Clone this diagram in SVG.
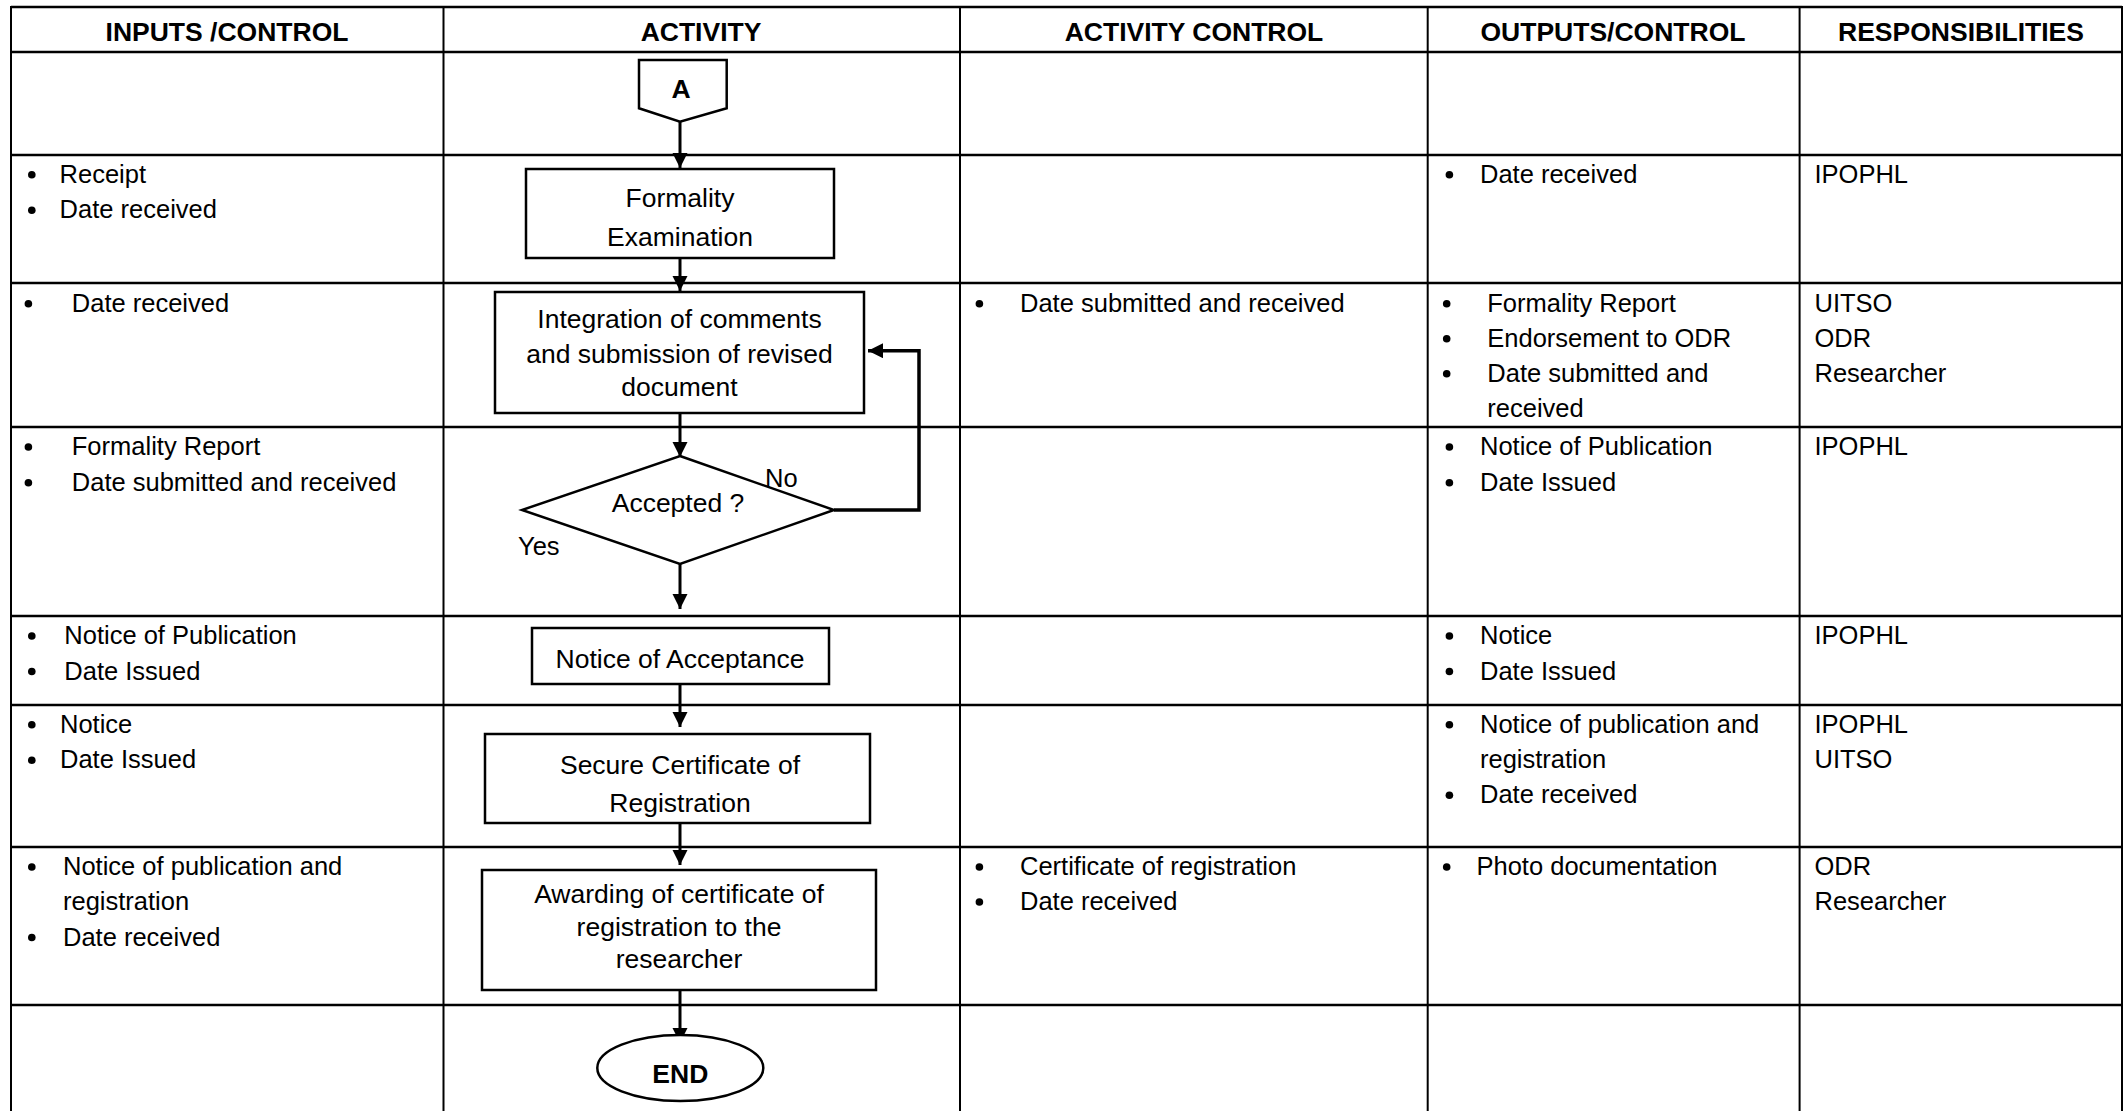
<svg xmlns="http://www.w3.org/2000/svg" width="2124" height="1111" viewBox="0 0 2124 1111">
<style>
text{font-family:"Liberation Sans",Arial,sans-serif;fill:#000}
.t{font-size:25.5px}
.h{font-size:26.5px;font-weight:bold;text-anchor:middle}
.c{font-size:26.5px;text-anchor:middle}
.b{font-size:26.5px;font-weight:bold;text-anchor:middle}
.hl{stroke:#000;stroke-width:2.5}
.vl{stroke:#000;stroke-width:2}
.shape{fill:#fff;stroke:#000;stroke-width:2.5}
.conn{fill:none;stroke:#000;stroke-width:3}
.loop{fill:none;stroke:#000;stroke-width:3.5}
</style>
<defs>
<marker id="arr" markerUnits="userSpaceOnUse" markerWidth="16" markerHeight="16" refX="15" refY="7.5" orient="auto">
<path d="M0,0 L15,7.5 L0,15 z" fill="#000"/>
</marker>
<circle id="dot" r="3.8" fill="#000"/>
</defs>
<rect width="2124" height="1111" fill="#fff"/>
<g id="table">
<line class="hl" x1="11" y1="7" x2="2122" y2="7"/>
<line class="hl" x1="11" y1="52" x2="2122" y2="52"/>
<line class="hl" x1="11" y1="155" x2="2122" y2="155"/>
<line class="hl" x1="11" y1="283" x2="2122" y2="283"/>
<line class="hl" x1="11" y1="427" x2="2122" y2="427"/>
<line class="hl" x1="11" y1="616" x2="2122" y2="616"/>
<line class="hl" x1="11" y1="705" x2="2122" y2="705"/>
<line class="hl" x1="11" y1="847" x2="2122" y2="847"/>
<line class="hl" x1="11" y1="1005" x2="2122" y2="1005"/>
<line class="vl" x1="11" y1="6" x2="11" y2="1111"/>
<line class="vl" x1="443.5" y1="6" x2="443.5" y2="1111"/>
<line class="vl" x1="960" y1="6" x2="960" y2="1111"/>
<line class="vl" x1="1427.7" y1="6" x2="1427.7" y2="1111"/>
<line class="vl" x1="1799.6" y1="6" x2="1799.6" y2="1111"/>
<line class="vl" x1="2122" y1="6" x2="2122" y2="1111"/>
<text class="h" x="227" y="40.5">INPUTS /CONTROL</text>
<text class="h" x="701" y="40.5">ACTIVITY</text>
<text class="h" x="1194" y="40.5">ACTIVITY CONTROL</text>
<text class="h" x="1613" y="40.5">OUTPUTS/CONTROL</text>
<text class="h" x="1961" y="40.5">RESPONSIBILITIES</text>
</g>
<g id="cells">
<use href="#dot" x="31.8" y="174.7"/><text class="t" x="59.6" y="182.7">Receipt</text>
<use href="#dot" x="31.8" y="210.3"/><text class="t" x="59.6" y="218.3">Date received</text>
<use href="#dot" x="1449.4" y="174.7"/><text class="t" x="1480" y="182.7">Date received</text>
<text class="t" x="1814.5" y="182.7">IPOPHL</text>

<use href="#dot" x="28.4" y="303.7"/><text class="t" x="71.8" y="311.7">Date received</text>
<use href="#dot" x="979.4" y="303.7"/><text class="t" x="1020" y="311.7">Date submitted and received</text>
<use href="#dot" x="1446.7" y="303.7"/><text class="t" x="1487.3" y="311.7">Formality Report</text>
<use href="#dot" x="1446.7" y="338.7"/><text class="t" x="1487.3" y="346.7">Endorsement to ODR</text>
<use href="#dot" x="1446.7" y="373.7"/><text class="t" x="1487.3" y="381.7">Date submitted and</text>
<text class="t" x="1487.3" y="416.7">received</text>
<text class="t" x="1814.5" y="311.7">UITSO</text>
<text class="t" x="1814.5" y="346.7">ODR</text>
<text class="t" x="1814.5" y="381.7">Researcher</text>

<use href="#dot" x="28.4" y="447"/><text class="t" x="71.8" y="455">Formality Report</text>
<use href="#dot" x="28.4" y="482.7"/><text class="t" x="71.8" y="490.7">Date submitted and received</text>
<use href="#dot" x="1449.4" y="447"/><text class="t" x="1480" y="455">Notice of Publication</text>
<use href="#dot" x="1449.4" y="482.7"/><text class="t" x="1480" y="490.7">Date Issued</text>
<text class="t" x="1814.5" y="455">IPOPHL</text>

<use href="#dot" x="31.8" y="636"/><text class="t" x="64.3" y="644">Notice of Publication</text>
<use href="#dot" x="31.8" y="671.5"/><text class="t" x="64.3" y="679.5">Date Issued</text>
<use href="#dot" x="1449.4" y="636"/><text class="t" x="1480" y="644">Notice</text>
<use href="#dot" x="1449.4" y="671.5"/><text class="t" x="1480" y="679.5">Date Issued</text>
<text class="t" x="1814.5" y="644">IPOPHL</text>

<use href="#dot" x="31.8" y="724.7"/><text class="t" x="60" y="732.7">Notice</text>
<use href="#dot" x="31.8" y="760.3"/><text class="t" x="60" y="768.3">Date Issued</text>
<use href="#dot" x="1449.4" y="724.7"/><text class="t" x="1480" y="732.7">Notice of publication and</text>
<text class="t" x="1480" y="768.3">registration</text>
<use href="#dot" x="1449.4" y="795.3"/><text class="t" x="1480" y="803.3">Date received</text>
<text class="t" x="1814.5" y="732.7">IPOPHL</text>
<text class="t" x="1814.5" y="768.3">UITSO</text>

<use href="#dot" x="31.8" y="867"/><text class="t" x="63" y="875">Notice of publication and</text>
<text class="t" x="63" y="910">registration</text>
<use href="#dot" x="31.8" y="937.5"/><text class="t" x="63" y="945.5">Date received</text>
<use href="#dot" x="979.4" y="867"/><text class="t" x="1020" y="875">Certificate of registration</text>
<use href="#dot" x="979.4" y="902"/><text class="t" x="1020" y="910">Date received</text>
<use href="#dot" x="1446.7" y="867"/><text class="t" x="1476.5" y="875">Photo documentation</text>
<text class="t" x="1814.5" y="875">ODR</text>
<text class="t" x="1814.5" y="910">Researcher</text>
</g>
<g id="connectors">
<line class="conn" x1="680" y1="121.7" x2="680" y2="168" marker-end="url(#arr)"/>
<line class="conn" x1="680" y1="258" x2="680" y2="291" marker-end="url(#arr)"/>
<line class="conn" x1="680" y1="413" x2="680" y2="457" marker-end="url(#arr)"/>
<line class="conn" x1="680" y1="564" x2="680" y2="609" marker-end="url(#arr)"/>
<line class="conn" x1="680" y1="684" x2="680" y2="727" marker-end="url(#arr)"/>
<line class="conn" x1="680" y1="823" x2="680" y2="865" marker-end="url(#arr)"/>
<line class="conn" x1="680" y1="990" x2="680" y2="1043" marker-end="url(#arr)"/>
<polyline class="loop" points="834,510 919,510 919,350.7 868,350.7" marker-end="url(#arr)"/>
</g>
<g id="node-A">
<polygon class="shape" points="639,60 726.7,60 726.7,108.3 680,121.7 639,108.3"/>
<text class="b" x="681" y="97.7">A</text>
</g>
<g id="node-formality">
<rect class="shape" x="526" y="169" width="308" height="89"/>
<text class="c" x="680" y="206.7">Formality</text>
<text class="c" x="680" y="245.7">Examination</text>
</g>
<g id="node-integration">
<rect class="shape" x="495" y="292" width="369" height="121"/>
<text class="c" x="679.5" y="328.3">Integration of comments</text>
<text class="c" x="679.5" y="362.7">and submission of revised</text>
<text class="c" x="679.5" y="396">document</text>
</g>
<g id="node-accepted">
<polygon class="shape" points="680,456 834,510 680,564 522,510"/>
<text class="c" x="678" y="511.7">Accepted ?</text>
<text class="t" x="765" y="487.3">No</text>
<text class="t" x="518" y="555">Yes</text>
</g>
<g id="node-notice">
<rect class="shape" x="532" y="628" width="297" height="56"/>
<text class="c" x="680" y="668.3">Notice of Acceptance</text>
</g>
<g id="node-secure">
<rect class="shape" x="485" y="734" width="385" height="89"/>
<text class="c" x="680" y="774">Secure Certificate of</text>
<text class="c" x="680" y="811.7">Registration</text>
</g>
<g id="node-awarding">
<rect class="shape" x="482" y="870" width="394" height="120"/>
<text class="c" x="679" y="903">Awarding of certificate of</text>
<text class="c" x="679" y="936">registration to the</text>
<text class="c" x="679" y="968.3">researcher</text>
</g>
<g id="node-end">
<ellipse class="shape" cx="680.3" cy="1068" rx="83" ry="33"/>
<text class="b" x="680.3" y="1083.3">END</text>
</g>
</svg>
